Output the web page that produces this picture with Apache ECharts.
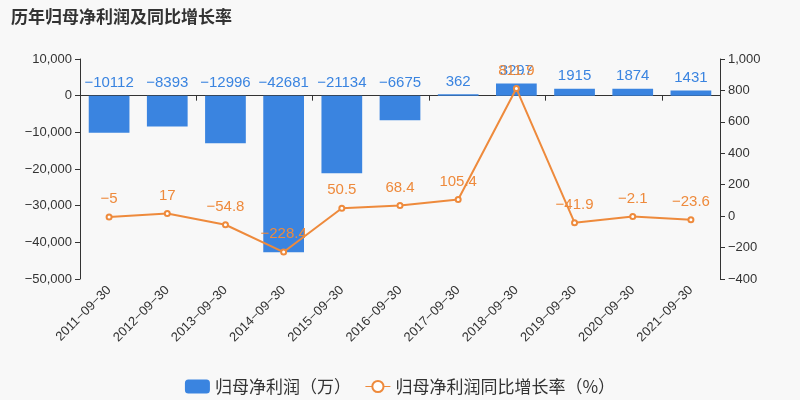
<!DOCTYPE html>
<html>
<head>
<meta charset="utf-8">
<script src="https://cdn.jsdelivr.net/npm/echarts@6/dist/echarts.min.js"></script>
<style>
  html, body { margin: 0; padding: 0; background: #f8f8f8; }
  #chart { width: 800px; height: 400px; }
</style>
</head>
<body>
<div id="chart"></div>
<script>
var categories = ['2011-09-30', '2012-09-30', '2013-09-30', '2014-09-30', '2015-09-30', '2016-09-30',
    '2017-09-30', '2018-09-30', '2019-09-30', '2020-09-30', '2021-09-30'];
var profit = [-10112, -8393, -12996, -42681, -21134, -6675, 362, 3297, 1915, 1874, 1431];
var growth = [-5, 17, -54.8, -228.4, 50.5, 68.4, 105.4, 811.9, -41.9, -2.1, -23.6];

var font = '"Liberation Sans", Arial, "Noto Sans CJK SC", sans-serif';
var blue = '#3a84e0';
var orange = '#ee8a3c';

// real minus sign, like the original
function minus(s) {
    return String(s).replace(/-/g, '\u2212');
}
function axisNum(v) {
    return minus(echarts.format.addCommas(v));
}

var chart = echarts.init(document.getElementById('chart'));
chart.setOption({
    backgroundColor: '#f8f8f8',
    textStyle: { fontFamily: font },
    title: {
        text: '历年归母净利润及同比增长率',
        left: 6, top: 5,
        textStyle: { fontSize: 17, fontWeight: 'bold', color: '#333', fontFamily: font }
    },
    legend: {
        bottom: 0, left: 'center',
        itemWidth: 25, itemHeight: 14, itemGap: 14,
        textStyle: { fontSize: 17, color: '#333', fontFamily: '"Noto Sans CJK SC", sans-serif' },
        data: [
            { name: '归母净利润（万）', icon: 'roundRect' },
            { name: '归母净利润同比增长率（%）', lineStyle: { width: 1 } }
        ]
    },
    grid: { left: 80, right: 80, top: 59, bottom: 121 },
    xAxis: [{
        type: 'category',
        data: categories,
        axisLine: { onZero: true, lineStyle: { color: '#333' } },
        axisTick: { show: true, lineStyle: { color: '#333' } },
        axisLabel: { show: false }
    }, {
        type: 'category',
        data: categories,
        position: 'bottom',
        axisLine: { show: false },
        axisTick: { show: false },
        axisLabel: { rotate: 45, fontSize: 13, color: '#333', margin: 9, formatter: minus }
    }],
    yAxis: [{
        type: 'value',
        min: -50000, max: 10000, interval: 10000,
        axisLine: { show: true, lineStyle: { color: '#333' } },
        axisTick: { show: true },
        splitLine: { show: false },
        axisLabel: { fontSize: 13, color: '#333', formatter: axisNum }
    }, {
        type: 'value',
        min: -400, max: 1000, interval: 200,
        axisLine: { show: true, lineStyle: { color: '#333' } },
        axisTick: { show: true },
        splitLine: { show: false },
        axisLabel: { fontSize: 13, color: '#333', formatter: axisNum }
    }],
    series: [{
        name: '归母净利润（万）',
        type: 'bar',
        xAxisIndex: 0,
        yAxisIndex: 0,
        barWidth: '70%',
        data: profit,
        itemStyle: { color: blue },
        label: {
            show: true, position: 'top', fontSize: 15, color: blue,
            formatter: function (p) { return minus(p.value); }
        }
    }, {
        name: '归母净利润同比增长率（%）',
        type: 'line',
        xAxisIndex: 0,
        yAxisIndex: 1,
        data: growth,
        symbol: 'emptyCircle',
        symbolSize: 5,
        itemStyle: { color: orange },
        lineStyle: { color: orange, width: 2 },
        label: {
            show: true, position: 'top', distance: 7, fontSize: 15, color: orange,
            formatter: function (p) { return minus(p.value); }
        }
    }]
});
</script>
</body>
</html>
